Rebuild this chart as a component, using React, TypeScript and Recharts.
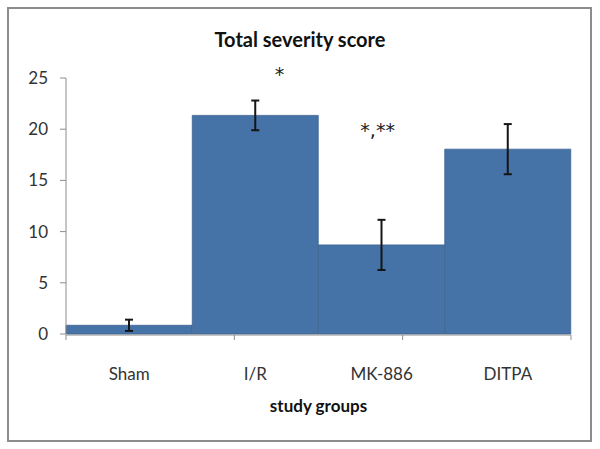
import React from 'react';
import { BarChart, Bar, XAxis, YAxis, ErrorBar, ReferenceDot, Label } from 'recharts';

const groups = ['Sham', 'I/R', 'MK-886', 'DITPA'];
const means = [0.85, 21.35, 8.7, 18.05];
const errors = [0.55, 1.45, 2.45, 2.45];
const yTicks = [0, 5, 10, 15, 20, 25];
const edgeTicks = [0, 1, 2, 3, 4];

const annotations = [
  { group: 'I/R', text: '*', y: 24.7, dx: 24 },
  { group: 'MK-886', text: '*,**', y: 19.2, dx: -4 },
];

const data = groups.map((g, i) => ({ group: g, value: means[i], err: errors[i] }));

const FONT = 'Lato, "Noto Sans", sans-serif';

const AnnoLabel = (props: any) => {
  const { viewBox, text, dx } = props;
  const cx = viewBox.x + (viewBox.width || 0) / 2;
  const cy = viewBox.y + (viewBox.height || 0) / 2;
  return (
    <text x={cx + dx} y={cy} textAnchor="middle" fontFamily='"DejaVu Sans", sans-serif' fontSize={19} fill="#222">
      {text}
    </text>
  );
};

export default function App() {
  return (
    <div style={{ position: 'absolute', left: 0, top: 0, width: 600, height: 449, background: '#fff' }}>
      <div
        style={{
          position: 'absolute',
          left: 7,
          top: 7,
          width: 585,
          height: 435,
          border: '2px solid #8c8c8c',
          boxSizing: 'border-box',
        }}
      />
      <div
        style={{
          position: 'absolute',
          left: 0,
          top: 27,
          width: 600,
          textAlign: 'center',
          fontFamily: FONT,
          fontWeight: 700,
          fontSize: 20,
          color: '#111',
        }}
      >
        Total severity score
      </div>
      <div style={{ position: 'absolute', left: 0, top: 0 }}>
        <BarChart
          width={600}
          height={449}
          data={data}
          margin={{ top: 78, right: 29, bottom: 113, left: 26 }}
          barCategoryGap={0}
          barGap={0}
        >
          <XAxis
            xAxisId="edges"
            type="number"
            domain={[0, groups.length]}
            ticks={edgeTicks}
            height={1}
            axisLine={{ stroke: '#8c8c8c' }}
            tickLine={{ stroke: '#8c8c8c' }}
            tickSize={5}
            tickFormatter={() => ''}
            allowDataOverflow
          />
          <XAxis
            dataKey="group"
            height={1}
            axisLine={false}
            tickLine={false}
            tickSize={0}
            tickMargin={34}
            tick={{ fontFamily: FONT, fontSize: 17, fill: '#333' }}
            interval={0}
          >
            <Label
              value="study groups"
              position="bottom"
              offset={65}
              style={{ fontFamily: FONT, fontSize: 17, fontWeight: 700, fill: '#111' }}
            />
          </XAxis>
          <YAxis
            domain={[0, 25]}
            ticks={yTicks}
            width={40}
            axisLine={{ stroke: '#8c8c8c' }}
            tickLine={{ stroke: '#8c8c8c' }}
            tickSize={6}
            tickMargin={12}
            tick={{ fontFamily: FONT, fontSize: 17, fill: '#333' }}
            interval={0}
          />
          <Bar dataKey="value" fill="#4572a7" stroke="#3d6492" strokeWidth={0.8} isAnimationActive={false}>
            <ErrorBar dataKey="err" width={4} strokeWidth={2} stroke="#151515" direction="y" />
          </Bar>
          {annotations.map((a) => (
            <ReferenceDot
              key={a.group}
              x={a.group}
              y={a.y}
              r={0}
              ifOverflow="visible"
              fill="none"
              stroke="none"
              label={<AnnoLabel text={a.text} dx={a.dx} />}
            />
          ))}
        </BarChart>
      </div>
    </div>
  );
}
